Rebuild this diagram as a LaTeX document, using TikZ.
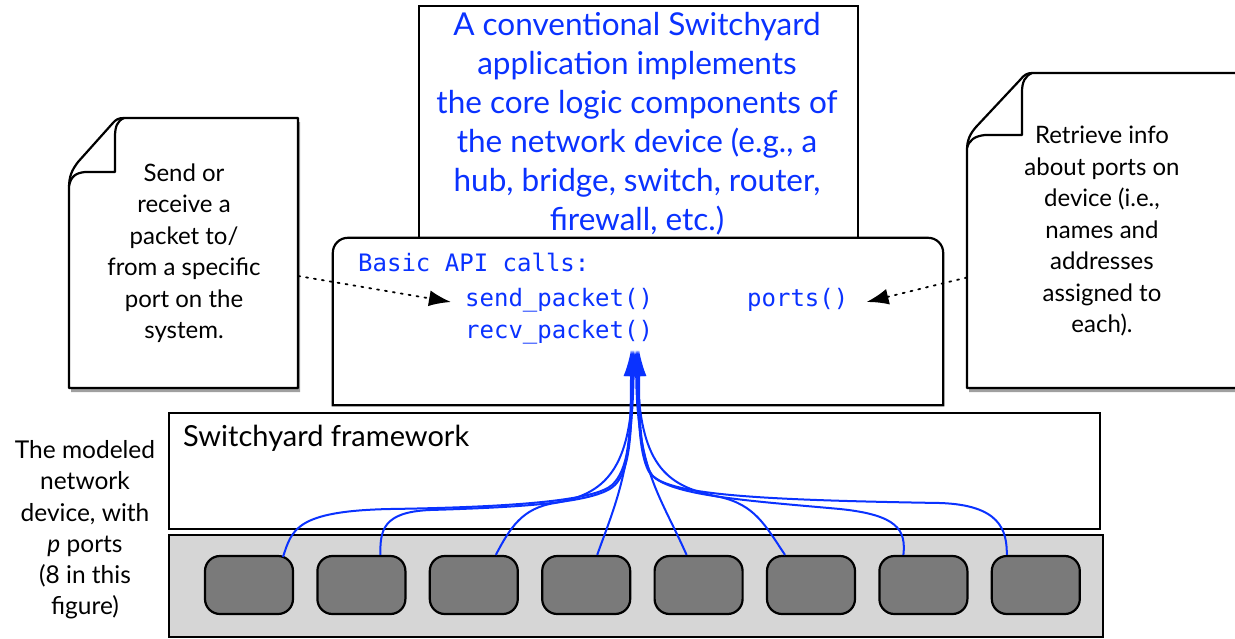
\documentclass[tikz,border=0pt]{standalone}
\usepackage{fontspec}
\setmainfont{Lato}
\setmonofont{DejaVu Sans Mono}
\usetikzlibrary{arrows.meta,calc}
\definecolor{apiblue}{RGB}{10,50,255}
\definecolor{panelgray}{RGB}{214,214,214}
\definecolor{portgray}{RGB}{122,122,122}
\definecolor{shadowgray}{RGB}{160,160,160}
\tikzset{
  boxline/.style={draw=black, line width=2.2pt},
  portbox/.style={draw=black, line width=2.2pt, fill=portgray, rounded corners=15pt,
    minimum width=88pt, minimum height=58pt, inner sep=0pt},
  notetext/.style={align=center, font=\fontsize{24}{31.5}\selectfont, inner sep=0pt},
  codetext/.style={anchor=west, inner sep=0pt, text=apiblue, font=\ttfamily\fontsize{24}{28}\selectfont},
  wire/.style={draw=apiblue, line width=2pt, -{Latex[length=26pt,width=15pt]}},
  dotarrow/.style={draw=black, line width=1.8pt, dash pattern=on 2pt off 6pt, line cap=round,
    -{Latex[length=22pt,width=16pt,line cap=butt]}},
}
\begin{document}
\begin{tikzpicture}[x=1pt,y=-1pt]
\useasboundingbox (0,0) rectangle (1235,638);

% top box
\node[boxline, fill=white, minimum width=439pt, minimum height=240pt, anchor=north west] (top) at (418,5) {};
\node[align=center, text=apiblue, font=\fontsize{31.5}{39}\selectfont, inner sep=0pt] (toptext) at (637,124)
  {A conventional Switchyard\\application implements\\the core logic components of\\the network device (e.g., a\\hub, bridge, switch, router,\\firewall, etc.)};

% API box
\node[minimum width=610pt, minimum height=167pt, inner sep=0pt] (api) at (638,321.5) {};
\fill[shadowgray, xshift=3pt, yshift=-5pt] (api.south west) -- ($(api.north west)+(0,15)$) arc[start angle=180,end angle=90,radius=15pt]
  -- ($(api.north east)+(-15,0)$) arc[start angle=90,end angle=0,radius=15pt] -- (api.south east) -- cycle;
\draw[boxline, fill=white] (api.south west) -- ($(api.north west)+(0,15)$) arc[start angle=180,end angle=90,radius=15pt]
  -- ($(api.north east)+(-15,0)$) arc[start angle=90,end angle=0,radius=15pt] -- (api.south east) -- cycle;
\node[codetext] (basic) at (358,262) {Basic API calls:};
\node[codetext] (send) at (465,300) {send\_packet()};
\node[codetext] (recv) at (465,332) {recv\_packet()};
\node[codetext] (ports) at (747,300) {ports()};

% left note
\fill[shadowgray, xshift=2pt, yshift=-4pt] (69,388) -- (69,188) .. controls (69,176) and (72,170) .. (78,162) -- (112,124) .. controls (116,119) and (119,118) .. (124,118) -- (298,118) -- (298,388) -- cycle;
\draw[boxline, fill=white, line join=round] (69,388) -- (69,188) .. controls (69,176) and (72,170) .. (78,162) -- (112,124) .. controls (116,119) and (119,118) .. (124,118) -- (298,118) -- (298,388) -- cycle;
\draw[boxline, line join=round] (124,118) .. controls (117,121) and (115,127) .. (115,137) -- (115,172) -- (85,172) .. controls (76,173) and (71,176) .. (69,186);
\node[minimum width=229pt, minimum height=270pt, inner sep=0pt] (lnote) at (183.5,253) {};
\node[notetext] (lnotetext) at (184,253) {Send or\\receive a\\packet to/\\from a specific\\port on the\\system.};

% right note
\fill[shadowgray, xshift=2pt, yshift=-4pt] (967,388) -- (967,150) .. controls (967,140) and (970,134) .. (976,127) -- (1020,80) .. controls (1024,75) and (1027,73) .. (1032,73) -- (1240,73) -- (1240,388) -- cycle;
\draw[boxline, fill=white, line join=round] (967,388) -- (967,150) .. controls (967,140) and (970,134) .. (976,127) -- (1020,80) .. controls (1024,75) and (1027,73) .. (1032,73) -- (1240,73) -- (1240,388) -- cycle;
\draw[boxline, line join=round] (1032,73) .. controls (1025,76) and (1022,82) .. (1022,92) -- (1022,135) -- (985,135) .. controls (975,136) and (969,140) .. (967,148);
\node[minimum width=270pt, minimum height=315pt, inner sep=0pt] (rnote) at (1102,230.5) {};
\node[notetext] (rnotetext) at (1102,231) {Retrieve info\\about ports on\\device (i.e.,\\names and\\addresses\\assigned to\\each).};

% dotted connectors
\draw[dotarrow] ([yshift=-23pt]lnote.east) -- ([xshift=-14pt,yshift=-2pt]send.west);
\draw[dotarrow] ([yshift=-47pt]rnote.west) -- ([xshift=18pt,yshift=-2pt]ports.east);

% framework
\node[boxline, fill=white, minimum width=931pt, minimum height=116pt, anchor=north west, inner sep=0pt] (fw) at (168,412) {};
\node[anchor=west, inner sep=0pt, font=\fontsize{29}{32}\selectfont] (fwlabel) at (183,438) {Switchyard framework};

% port panel
\node[boxline, fill=panelgray, minimum width=934pt, minimum height=102pt, anchor=north west, inner sep=0pt] (panel) at (168,534) {};
\foreach \i in {1,...,8} {
  \node[portbox] (p\i) at ({249+(\i-1)*112.4},585) {};
}

% side label
\node[align=center, font=\fontsize{24.5}{31.2}\selectfont, inner sep=0pt] (side) at (85,530)
  {The modeled\\network\\device, with\\\textit{p} ports\\(8 in this\\figure)};

% wires
\coordinate (tip) at (634,350);
\draw[wire] ($(p1.north)+(34,2)$) .. controls (292,530) and (295,511) .. (390,509) .. controls (520,507) and (595,500) .. (612,485) .. controls (628,470) and (631,440) .. ($(tip)+(-3,0)$);
\draw[wire] ($(p2.north)+(19,0)$) .. controls (380,530) and (383,512) .. (430,510) .. controls (530,507) and (598,502) .. (615,485) .. controls (629,470) and (632,440) .. ($(tip)+(-2,0)$);
\draw[wire] ($(p3.north)+(22,0)$) .. controls (510,528) and (522,508) .. (555,503) .. controls (605,494) and (632,470) .. ($(tip)+(-1,0)$);
\draw[wire] ($(p4.north)+(11,0)$) .. controls (615,505) and (632,470) .. ($(tip)+(0,0)$);
\draw[wire] ($(p5.north)+(-12,0)$) .. controls (660,495) and (637,470) .. ($(tip)+(2,0)$);
\draw[wire] ($(p6.north)+(-26,0)$) .. controls (765,525) and (755,505) .. (720,497) .. controls (670,487) and (640,470) .. ($(tip)+(3,0)$);
\draw[wire] ($(p7.north)+(-20,0)$) .. controls (906,530) and (898,515) .. (840,509) .. controls (740,500) and (660,495) .. (648,470) .. controls (641,455) and (638,430) .. ($(tip)+(4,0)$);
\draw[wire] ($(p8.north)+(-29,0)$) .. controls (1007,530) and (1000,505) .. (940,503) .. controls (760,500) and (670,495) .. (652,475) .. controls (642,460) and (639,430) .. ($(tip)+(5,0)$);
\end{tikzpicture}
\end{document}
